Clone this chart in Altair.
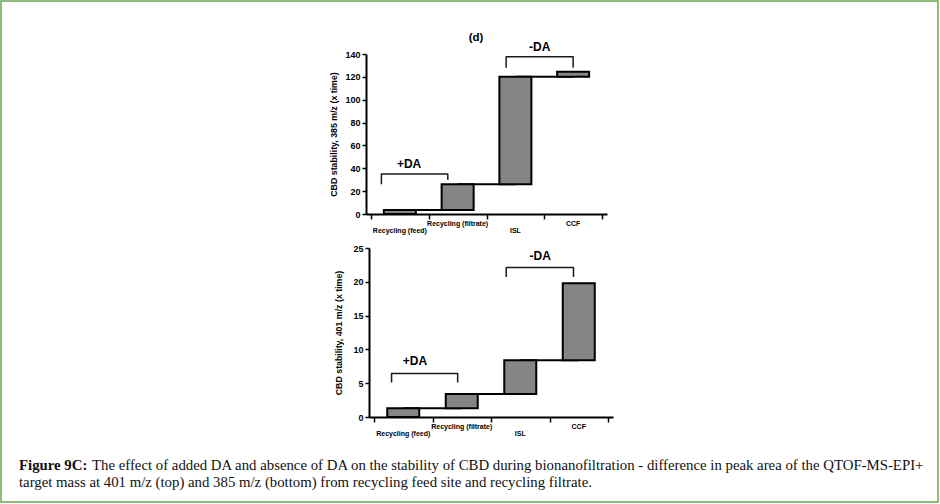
import altair as alt
import pandas as pd

# ---------------- data ----------------
categories = ["Recycling (feed)", "Recycling (filtrate)", "ISL", "CCF"]
label_lower = [True, False, True, False]          # staggered category labels

top_start = [0, 3.5, 26, 120]
top_end = [3.5, 26, 120, 124.5]
top_ticks = [0, 20, 40, 60, 80, 100, 120, 140]
top_title = "CBD stability, 385 m/z (x time)"

bot_start = [0, 1.3, 3.4, 8.4]
bot_end = [1.3, 3.4, 8.4, 19.8]
bot_ticks = [0, 5, 10, 15, 20, 25]
bot_title = "CBD stability, 401 m/z (x time)"

# brackets: label, left x, right x, bar height, left leg end, right leg end, label x, label y
top_br_label = ["+DA", "-DA"]
top_br_x1 = [0.18, 2.34]
top_br_x2 = [1.33, 3.50]
top_br_h = [35, 137.5]
top_br_l = [26, 128]
top_br_r = [30, 128]
top_br_tx = [0.66, 2.92]
top_br_ty = [44, 146]

bot_br_label = ["+DA", "-DA"]
bot_br_x1 = [0.30, 2.26]
bot_br_x2 = [1.43, 3.41]
bot_br_h = [6.45, 22.1]
bot_br_l = [5.1, 20.7]
bot_br_r = [5.1, 20.7]
bot_br_tx = [0.70, 2.84]
bot_br_ty = [8.3, 23.8]

panel_title = "(d)"
caption_bold = "Figure 9C:"
caption_line1 = ("The effect of added DA and absence of DA on the stability of CBD during "
                 "bionanofiltration - difference in peak area of the QTOF-MS-EPI+")
caption_line2 = ("target mass at 401 m/z (top) and 385 m/z (bottom) from recycling feed "
                 "site and recycling filtrate.")

FONT = "Liberation Sans"
SERIF = "Liberation Serif"
FILL = "#858585"
CAP_SIZE = 14.8


def panel(start, end, ticks, ymax, title, xrange, yrange, xoff, yoff, tpad,
          br_label, br_x1, br_x2, br_h, br_l, br_r, br_tx, br_ty, lab_hi, lab_lo):
    xs = alt.Scale(domain=[0, 4], range=xrange, nice=False, zero=False)
    ys = alt.Scale(domain=[0, ymax], range=yrange, nice=False, zero=False)

    bars = pd.DataFrame({
        "cat": categories,
        "pos": [i + 0.5 for i in range(len(categories))],
        "start": start,
        "end": end,
        "lower": label_lower,
    })
    conn = pd.DataFrame({
        "x": [i + 0.5 for i in range(len(categories) - 1)],
        "x2": [i + 1.5 for i in range(len(categories) - 1)],
        "y": end[:-1],
    })
    pts = []
    for k, lab in enumerate(br_label):
        pts += [
            {"b": lab, "o": 0, "x": br_x1[k], "y": br_l[k]},
            {"b": lab, "o": 1, "x": br_x1[k], "y": br_h[k]},
            {"b": lab, "o": 2, "x": br_x2[k], "y": br_h[k]},
            {"b": lab, "o": 3, "x": br_x2[k], "y": br_r[k]},
        ]
    brk = pd.DataFrame(pts)
    brt = pd.DataFrame({"t": br_label, "x": br_tx, "y": br_ty})

    xaxis = alt.Axis(values=[0, 1, 2, 3, 4], labels=False, title=None, grid=False,
                     orient="bottom", offset=xoff, tickSize=5, tickWidth=1.5,
                     tickColor="black", domainColor="black", domainWidth=2)
    yaxis = alt.Axis(values=ticks, title=title, grid=False, orient="left",
                     offset=yoff, tickSize=4, tickWidth=1.5, tickColor="black",
                     domainColor="black", domainWidth=2, labelFont=FONT,
                     labelFontSize=9, labelFontWeight="bold", labelColor="black",
                     labelPadding=2, titleFont=FONT, titleFontSize=8.8,
                     titleFontWeight="bold", titleColor="black", titlePadding=tpad)

    def X(f):
        return alt.X(f, scale=xs, axis=xaxis, title=None)

    def Y(f):
        return alt.Y(f, scale=ys, axis=yaxis, title=title)

    l_conn = alt.Chart(conn).mark_rule(color="black", strokeWidth=2).encode(
        x=X("x:Q"), x2="x2:Q", y=Y("y:Q"),
    )
    l_bars = alt.Chart(bars).mark_bar(size=32, fill=FILL, stroke="black",
                                      strokeWidth=2).encode(
        x=X("pos:Q"), y=Y("start:Q"), y2="end:Q",
    )
    l_brk = alt.Chart(brk).mark_line(color="#1a1a1a", strokeWidth=1.5,
                                     strokeJoin="round").encode(
        x=X("x:Q"), y=Y("y:Q"), detail="b:N", order="o:Q",
    )
    l_brt = alt.Chart(brt).mark_text(font=FONT, fontSize=12, fontWeight="bold",
                                     color="black").encode(
        x=X("x:Q"), y=Y("y:Q"), text="t:N",
    )
    l_lab_lo = alt.Chart(bars).transform_filter("datum.lower").mark_text(
        font=FONT, fontSize=7, fontWeight="bold", color="black").encode(
        x=X("pos:Q"), y=alt.value(lab_lo), text="cat:N",
    )
    l_lab_hi = alt.Chart(bars).transform_filter("!datum.lower").mark_text(
        font=FONT, fontSize=7, fontWeight="bold", color="black").encode(
        x=X("pos:Q"), y=alt.value(lab_hi), text="cat:N",
    )
    return alt.layer(l_conn, l_bars, l_brk, l_brt, l_lab_lo, l_lab_hi)


# view origin is at absolute (1, 1)
top = panel(top_start, top_end, top_ticks, 140, top_title,
            [365, 606], [213, 53], -288, -365, 6,
            top_br_label, top_br_x1, top_br_x2, top_br_h, top_br_l, top_br_r,
            top_br_tx, top_br_ty, 223, 230)
bottom = panel(bot_start, bot_end, bot_ticks, 25, bot_title,
               [368, 612], [416, 247], -85, -368, 9,
               bot_br_label, bot_br_x1, bot_br_x2, bot_br_h, bot_br_l, bot_br_r,
               bot_br_tx, bot_br_ty, 426, 433)

one = pd.DataFrame({"t": [panel_title]})
title_layer = alt.Chart(one).mark_text(font=FONT, fontSize=11.5, fontWeight="bold",
                                       color="black").encode(
    x=alt.value(475), y=alt.value(37), text="t:N")

cap = pd.DataFrame({"b": [caption_bold], "l1": [caption_line1], "l2": [caption_line2]})
cap_b = alt.Chart(cap).mark_text(font=SERIF, fontSize=CAP_SIZE, fontWeight="bold",
                                 align="left", baseline="alphabetic",
                                 color="#111111").encode(
    x=alt.value(18), y=alt.value(469), text="b:N")
cap_1 = alt.Chart(cap).mark_text(font=SERIF, fontSize=CAP_SIZE, align="left",
                                 baseline="alphabetic", color="#111111").encode(
    x=alt.value(91), y=alt.value(469), text="l1:N")
cap_2 = alt.Chart(cap).mark_text(font=SERIF, fontSize=CAP_SIZE, align="left",
                                 baseline="alphabetic", color="#111111").encode(
    x=alt.value(18), y=alt.value(486), text="l2:N")

chart = alt.layer(top, bottom, title_layer, cap_b, cap_1, cap_2).resolve_scale(
    x="independent", y="independent"
).resolve_axis(
    x="independent", y="independent"
).properties(
    width=937, height=501,
    autosize=alt.AutoSizeParams(type="none"),
    padding={"left": 1, "top": 1, "right": 2, "bottom": 2},
    background="white",
).configure_view(stroke="#6aa84f", strokeWidth=1.5)

chart.save("out.html", embed_options={"renderer": "svg", "actions": False})
